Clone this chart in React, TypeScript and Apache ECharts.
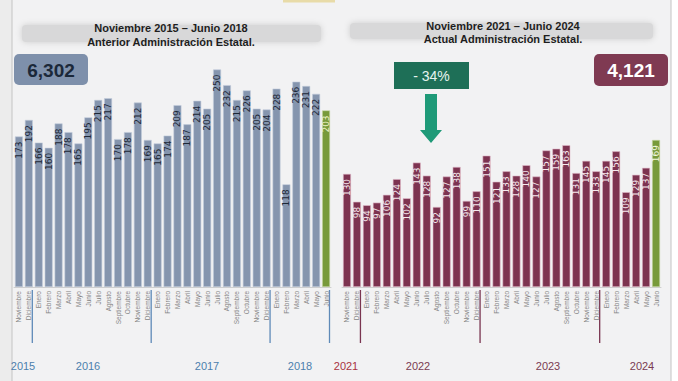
import React, { useEffect, useRef } from "react";
import * as echarts from "echarts";

const MONTHS = ["Enero", "Febrero", "Marzo", "Abril", "Mayo", "Junio", "Julio", "Agosto", "Septiembre", "Octubre", "Noviembre", "Diciembre"];
const categories = [...MONTHS.slice(10), ...MONTHS, ...MONTHS, ...MONTHS.slice(0, 6)];

const valuesBefore = [173, 192, 166, 160, 188, 178, 165, 195, 215, 217, 170, 178, 212, 169, 165, 174, 209, 187, 214, 205, 250, 232, 215, 226, 205, 204, 228, 118, 236, 231, 222, 203];
const valuesNow = [130, 98, 94, 97, 106, 124, 102, 143, 128, 92, 127, 138, 99, 110, 151, 121, 133, 128, 140, 127, 157, 159, 163, 131, 145, 133, 145, 156, 109, 129, 137, 169];

const yearsBefore = ["2015", "2016", "2017", "2018"];
const yearsNow = ["2021", "2022", "2023", "2024"];
const titleBefore = ["Noviembre 2015 – Junio 2018", "Anterior Administración Estatal."];
const titleNow = ["Noviembre 2021 – Junio 2024", "Actual Administración Estatal."];
const totalBefore = "6,302";
const totalNow = "4,121";
const change = "- 34%";

const FONT = "'Liberation Sans', Arial, sans-serif";
const BLUE = "#8595ae";
const MAROON = "#7d3350";
const GREEN = "#789a3a";

export default function App() {
  const ref = useRef<HTMLDivElement>(null);
  useEffect(() => {
    const chart = echarts.init(ref.current!, null, { renderer: "svg" });
    const mkData = (vals: number[], lastLabel: string) =>
      vals.map((v, i) =>
        i === vals.length - 1
          ? { value: v, itemStyle: { color: GREEN, borderColor: "#c9d9a8" }, label: { color: lastLabel } }
          : v
      );
    const labelBase = {
      show: true,
      position: "insideTop",
      rotate: 90,
      align: "right",
      verticalAlign: "middle",
      distance: 5,
      fontSize: 9,
      fontFamily: "'DejaVu Sans', sans-serif",
    };
    const xAxisBase = (gridIndex: number) => ({
      type: "category",
      gridIndex,
      data: categories,
      axisLine: { lineStyle: { color: "#cfcfcf" } },
      axisTick: { show: false },
      axisLabel: { rotate: 90, fontSize: 6.5, color: "#858585", interval: 0, margin: 4, fontFamily: FONT },
    });
    chart.setOption({
      animation: false,
      backgroundColor: "#f2f2f3",
      grid: [
        { left: 14, top: 26, width: 317, height: 261 },
        { left: 342, top: 26, width: 319, height: 261 },
      ],
      xAxis: [xAxisBase(0), xAxisBase(1)],
      yAxis: [
        { type: "value", gridIndex: 0, min: 0, max: 300, show: false },
        { type: "value", gridIndex: 1, min: 0, max: 300, show: false },
      ],
      series: [
        {
          type: "bar",
          xAxisIndex: 0,
          yAxisIndex: 0,
          data: mkData(valuesBefore, "#eef3c8"),
          barCategoryGap: "20%",
          itemStyle: { color: BLUE, borderColor: "#c3cddc", borderWidth: 0.6 },
          label: { ...labelBase, color: "#1c2736" },
        },
        {
          type: "bar",
          xAxisIndex: 1,
          yAxisIndex: 1,
          data: mkData(valuesNow, "#f4f8e0"),
          barCategoryGap: "20%",
          itemStyle: { color: MAROON, borderColor: "#e3bccb", borderWidth: 0.6 },
          label: { ...labelBase, color: "#f6e9ee" },
        },
      ],
    });

    const boundary = (axis: number, i: number) => {
      const a = chart.convertToPixel({ xAxisIndex: axis }, i - 1) as number;
      const b = chart.convertToPixel({ xAxisIndex: axis }, i) as number;
      return (a + b) / 2 - 1.5;
    };
    const janIdx = categories.map((c, i) => (c === "Enero" ? i : -1)).filter((i) => i > 0);
    const n = categories.length;
    const lastX0 =
      (chart.convertToPixel({ xAxisIndex: 0 }, n - 1) as number) +
      ((chart.convertToPixel({ xAxisIndex: 0 }, n - 1) as number) - (chart.convertToPixel({ xAxisIndex: 0 }, n - 2) as number)) / 2 -
      1.5;
    const sepLine = (x: number, color: string) => ({
      type: "line",
      shape: { x1: x, y1: 290, x2: x, y2: 343 },
      style: { stroke: color, lineWidth: 1.3 },
      silent: true,
    });
    const seps = [
      ...janIdx.map((i) => sepLine(boundary(0, i), "#5f8ab8")),
      sepLine(lastX0, "#5f8ab8"),
      ...janIdx.map((i) => sepLine(boundary(1, i), "#7a3550")),
    ];

    const yearText = (text: string, x: number, color: string, align = "center") => ({
      type: "text",
      x,
      y: 366,
      style: { text, fill: color, font: `11px ${FONT}`, textAlign: align, textVerticalAlign: "middle" },
    });
    const yearsL = [23, 88, 207, 300];
    const yearsR = [346, 418, 548, 642];

    const titleText = (text: string, x: number, y: number) => ({
      type: "text",
      x,
      y,
      style: { text, fill: "#1e1e1e", font: `bold 11px ${FONT}`, textAlign: "center", textVerticalAlign: "middle" },
    });

    chart.setOption({
      graphic: [
        { type: "rect", shape: { x: 671, y: 0, width: 7, height: 381 }, style: { fill: "#ffffff" }, silent: true },
        { type: "rect", shape: { x: 0, y: 0, width: 12, height: 381 }, style: { fill: "#ececec" }, silent: true },
        { type: "line", shape: { x1: 12, y1: 0, x2: 12, y2: 381 }, style: { stroke: "#c4c4c4", lineWidth: 1 }, silent: true },
        { type: "line", shape: { x1: 671, y1: 0, x2: 671, y2: 381 }, style: { stroke: "#c4c4c4", lineWidth: 1 }, silent: true },
        { type: "rect", shape: { x: 283, y: 0, width: 52, height: 2.5 }, style: { fill: "#e8dba8" }, silent: true },
        // title bands
        {
          type: "rect",
          shape: { x: 22, y: 25, width: 299, height: 17, r: 4 },
          style: { fill: "#d8d8d9", shadowBlur: 6, shadowColor: "rgba(200,200,200,0.9)" },
          silent: true,
        },
        {
          type: "rect",
          shape: { x: 350, y: 23, width: 303, height: 16, r: 4 },
          style: { fill: "#d8d8d9", shadowBlur: 6, shadowColor: "rgba(200,200,200,0.9)" },
          silent: true,
        },
        titleText(titleBefore[0], 171, 27.5),
        titleText(titleBefore[1], 171, 42),
        titleText(titleNow[0], 503, 26),
        titleText(titleNow[1], 503, 38.5),
        // total boxes
        { type: "rect", shape: { x: 14, y: 54, width: 74, height: 31, r: 5 }, style: { fill: "#7e90ab" }, silent: true },
        {
          type: "text",
          x: 51,
          y: 70,
          style: { text: totalBefore, fill: "#1b2839", font: `bold 19px ${FONT}`, textAlign: "center", textVerticalAlign: "middle" },
        },
        { type: "rect", shape: { x: 594, y: 54, width: 74, height: 32, r: 5 }, style: { fill: "#7f3a52" }, silent: true },
        {
          type: "text",
          x: 631,
          y: 70,
          style: { text: totalNow, fill: "#ffffff", font: `bold 19px ${FONT}`, textAlign: "center", textVerticalAlign: "middle" },
        },
        // change box and arrow
        { type: "rect", shape: { x: 394, y: 62, width: 75, height: 27 }, style: { fill: "#1e6f57" }, silent: true },
        {
          type: "text",
          x: 431.5,
          y: 75.5,
          style: { text: change, fill: "#e6f3ee", font: `14px ${FONT}`, textAlign: "center", textVerticalAlign: "middle" },
        },
        {
          type: "polygon",
          shape: {
            points: [
              [425, 94],
              [437, 94],
              [437, 130],
              [442, 130],
              [431, 143],
              [420, 130],
              [425, 130],
            ],
          },
          style: { fill: "#1f9a78" },
          silent: true,
        },
        ...seps,
        ...yearsBefore.map((t, i) => yearText(t, yearsL[i], "#4c80ad")),
        ...yearsNow.map((t, i) => yearText(t, yearsR[i], i === 0 ? "#a8333f" : "#7a3b52")),
      ],
    });
    return () => chart.dispose();
  }, []);
  return <div ref={ref} style={{ position: "absolute", left: 0, top: 0, width: 678, height: 381 }} />;
}
